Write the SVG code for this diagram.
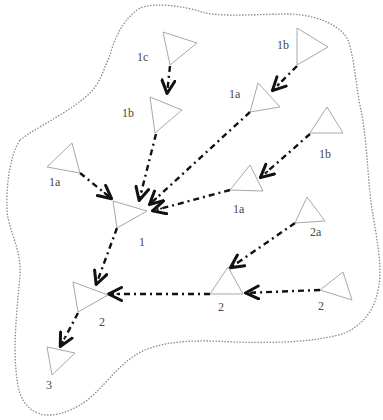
<svg xmlns="http://www.w3.org/2000/svg" width="383" height="420" viewBox="0 0 383 420">
<style>
.tri{fill:none;stroke:#a8a8a8;stroke-width:1}
.lbl{font-family:"Liberation Serif","DejaVu Serif",serif;font-size:12px;fill:#484848}
.edge{fill:none;stroke:#111;stroke-width:2.4;stroke-dasharray:6 4 2 4;marker-end:url(#ah)}
.outline{fill:none;stroke:#8a8a8a;stroke-width:1.3;stroke-dasharray:1.5 1.5}
</style>
<defs>
<marker id="ah" viewBox="0 0 16 16" refX="15" refY="8" markerWidth="16" markerHeight="16" markerUnits="userSpaceOnUse" orient="auto">
<path d="M1.5,1.5 L14.5,8 L1.5,14.5" fill="none" stroke="#111" stroke-width="3" stroke-linecap="round" stroke-linejoin="round"/>
<circle cx="5.5" cy="8" r="1.1" fill="#111"/>
</marker>
</defs>
<path class="outline" d="M20,140 C35,128 70,112 90,93 C102,80 104,68 110,55 C115,38 122,20 140,8 C155,2 185,6 205,13 C225,17 260,14 290,14 C315,15 340,24 348,40 C355,60 356,90 362,115 C368,150 368,190 373,215 C377,240 382,265 379,285 C376,305 368,322 345,333 C315,343 270,343 233,342 C200,340 170,340 145,350 C122,360 110,380 90,398 C75,410 55,418 40,414 C25,408 18,398 16,370 C13,340 18,300 20,275 C22,250 8,230 7,210 C6,185 10,155 20,140 Z"/>
<g id="connectors">
<line class="edge" x1="170" y1="66" x2="167" y2="94"/>
<line class="edge" x1="156" y1="134" x2="139" y2="201"/>
<line class="edge" x1="297" y1="66" x2="272" y2="91"/>
<line class="edge" x1="250" y1="112" x2="149" y2="205"/>
<line class="edge" x1="310" y1="134" x2="260" y2="178"/>
<line class="edge" x1="230" y1="190" x2="152" y2="211"/>
<line class="edge" x1="80" y1="173" x2="112" y2="199"/>
<line class="edge" x1="117" y1="228" x2="96" y2="285"/>
<line class="edge" x1="210" y1="294" x2="108" y2="294"/>
<line class="edge" x1="295" y1="223" x2="230" y2="268"/>
<line class="edge" x1="320" y1="290" x2="245" y2="293"/>
<line class="edge" x1="78" y1="313" x2="60" y2="347"/>
</g>
<g id="n1c"><polygon class="tri" points="163,32 197,43 170,65"/><text class="lbl" x="137" y="61">1c</text></g>
<g id="n1b-left"><polygon class="tri" points="150,97 182,110 155,133"/><text class="lbl" x="122" y="117">1b</text></g>
<g id="n1b-top"><polygon class="tri" points="297,28 328,47 297,65"/><text class="lbl" x="277" y="49">1b</text></g>
<g id="n1a-upper"><polygon class="tri" points="258,83 280,107 250,112"/><text class="lbl" x="229" y="98">1a</text></g>
<g id="n1b-right"><polygon class="tri" points="327,107 343,133 310,133"/><text class="lbl" x="319" y="158">1b</text></g>
<g id="n1a-lower"><polygon class="tri" points="250,165 263,191 230,190"/><text class="lbl" x="233" y="213">1a</text></g>
<g id="n1a-left"><polygon class="tri" points="72,143 80,173 47,167"/><text class="lbl" x="49" y="186">1a</text></g>
<g id="n1"><polygon class="tri" points="113,201 147,211 117,228"/><text class="lbl" x="139" y="246">1</text></g>
<g id="n2-left"><polygon class="tri" points="73,282 108,295 78,312"/><text class="lbl" x="99" y="326">2</text></g>
<g id="n2-mid"><polygon class="tri" points="228,267 243,294 210,294"/><text class="lbl" x="218" y="311">2</text></g>
<g id="n2a"><polygon class="tri" points="307,197 325,221 295,223"/><text class="lbl" x="310" y="236">2a</text></g>
<g id="n2-right"><polygon class="tri" points="343,272 352,300 320,290"/><text class="lbl" x="318" y="310">2</text></g>
<g id="n3"><polygon class="tri" points="47,347 75,353 52,375"/><text class="lbl" x="46" y="389">3</text></g>
</svg>
